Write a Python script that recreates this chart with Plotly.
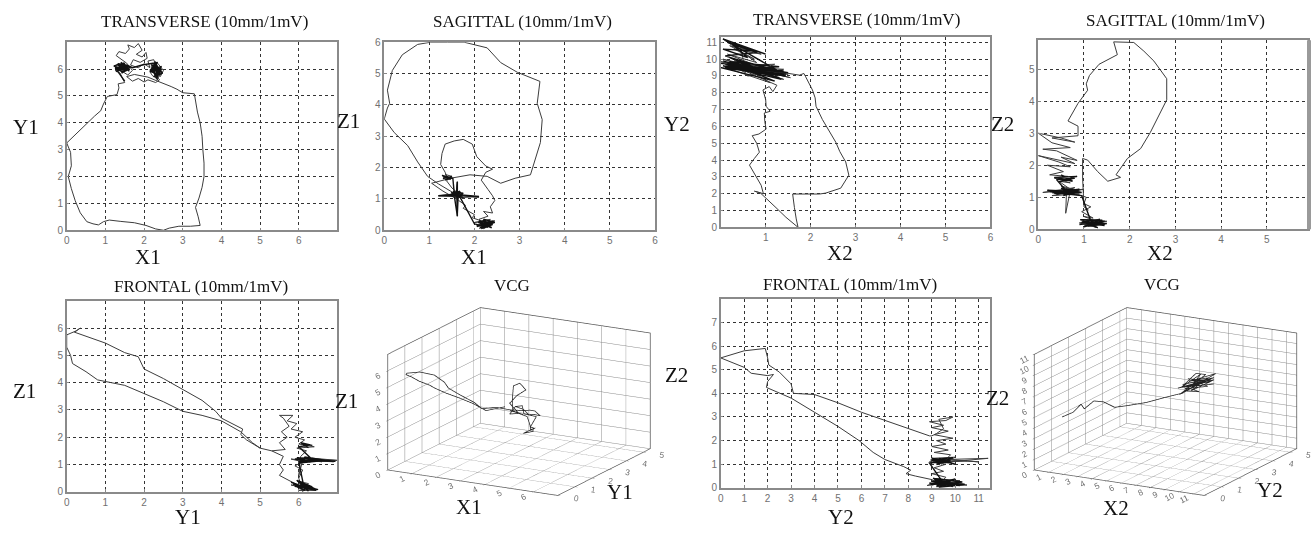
import plotly.graph_objects as go

W, H = 1314, 535

# ---------------- DATA ----------------
# Panel 1: TRANSVERSE (X1, Y1) - loop
trans1_x = [2.50, 2.30, 2.05, 1.75, 1.40, 1.10, 0.95, 0.82, 0.68, 0.52, 0.35, 0.22, 0.12, 0.04, 0.12, 0.10, 0.00,
            0.18, 0.38, 0.55, 0.72, 0.88, 0.95, 1.05, 1.30, 1.35, 1.33, 1.50,
            1.45, 1.38, 1.25, 1.40, 1.22, 1.35, 1.55, 1.30, 1.48, 1.62, 1.45, 1.58, 1.70, 1.55, 1.42, 1.28, 1.35, 1.52,
            1.62, 1.58, 1.75, 1.85, 1.95, 1.80, 1.95, 2.05, 2.08, 1.90, 1.72, 1.65, 1.85, 2.00, 2.15, 2.10, 2.25, 2.30,
            2.20, 2.38, 2.30, 2.45, 2.35, 2.22, 2.15, 2.28, 2.42, 2.50, 2.35, 2.18, 2.25, 2.40, 2.30, 2.10, 2.00, 1.85,
            1.70, 1.55, 1.75, 1.95, 2.10, 2.35, 2.55, 2.70, 2.85, 3.00, 3.30, 3.33, 3.38, 3.45, 3.50, 3.52, 3.55, 3.55,
            3.50, 3.42, 3.33, 3.40, 3.45, 3.20, 2.90, 2.65, 2.50]
trans1_y = [0.00, 0.05, 0.18, 0.28, 0.33, 0.38, 0.32, 0.20, 0.24, 0.32, 0.65, 1.10, 1.55, 2.00, 2.40, 2.90, 3.25,
            3.50, 3.80, 4.00, 4.25, 4.45, 4.70, 4.98, 5.05, 5.30, 5.45, 5.50,
            5.62, 5.85, 5.95, 6.05, 6.10, 6.20, 6.00, 5.92, 6.15, 6.08, 5.90, 5.78, 5.95, 6.22, 6.35, 6.50, 6.65, 6.58,
            6.75, 6.90, 6.80, 6.95, 6.70, 6.55, 6.45, 6.62, 6.40, 6.25, 6.35, 6.15, 6.05, 6.20, 6.05, 6.30, 6.35, 6.15,
            5.95, 6.02, 5.80, 5.85, 5.65, 5.75, 5.90, 5.95, 5.72, 5.95, 6.22, 6.12, 5.85, 5.60, 5.50, 5.60, 5.52, 5.65,
            5.55, 5.72, 5.80, 5.75, 5.70, 5.55, 5.45, 5.35, 5.25, 5.12, 5.08, 4.80, 4.40, 4.00, 3.50, 3.00, 2.50, 2.00,
            1.60, 1.20, 0.85, 0.50, 0.18, 0.15, 0.15, 0.08, 0.00]
# Panel 1 - dense noise clusters
trans1_noise_x = [1.50, 1.30, 1.55, 1.25, 1.45, 1.62, 1.30, 1.52, 1.22, 1.48, 1.60, 1.35, 1.28, 1.55, 1.42, 1.65,
                  1.33, 1.50, 1.25, 1.58, 1.40, 1.62, 1.45, 1.30, 1.55,
                  1.70, 1.95, 2.20, 2.35, 2.15, 2.45, 2.25, 2.40, 2.18, 2.48, 2.30, 2.20, 2.42, 2.28, 2.38, 2.15,
                  2.45, 2.32, 2.22, 2.40, 2.30, 2.46, 2.25, 2.36, 2.20, 2.35]
trans1_noise_y = [5.55, 5.95, 6.10, 6.05, 5.88, 6.00, 6.18, 5.92, 6.12, 6.22, 5.98, 6.02, 5.90, 6.15, 5.85, 6.08,
                  6.20, 5.96, 6.00, 6.05, 6.25, 5.92, 6.10, 5.95, 6.15,
                  6.05, 6.15, 6.20, 6.25, 5.95, 6.10, 5.70, 6.00, 6.18, 5.85, 5.75, 6.05, 5.90, 6.28, 5.80, 5.92,
                  6.00, 5.65, 6.12, 5.78, 5.95, 5.88, 6.22, 5.70, 6.02, 5.60]

# Panel 2: SAGITTAL (X1, Z1)
sag1_x = [2.10, 2.25, 2.05, 2.30, 2.15, 2.40, 2.20, 2.35, 2.00, 2.45, 2.25, 2.10, 2.30, 2.20, 2.40, 2.35, 2.45, 2.40,
          2.30, 2.15, 2.25, 2.40, 2.25, 2.05, 1.95, 1.75, 1.55, 1.35, 1.28, 1.25, 1.35, 1.40, 1.30, 1.48, 1.35, 1.50,
          1.38, 1.50, 1.62, 1.45, 1.70, 1.55, 1.75, 1.60, 1.20, 1.65, 1.62, 1.60, 1.62, 1.60, 2.10, 1.70, 1.55,
          1.20, 0.96, 0.74, 0.52, 0.22, 0.00, 0.07, 0.12, 0.07, 0.18, 0.40, 0.74, 1.03, 1.40, 1.77, 2.28, 2.58, 2.95,
          3.45, 3.39, 3.50, 3.46, 3.35, 3.24, 2.90, 2.58, 2.28, 1.90, 1.47, 1.20, 1.05, 1.30, 1.60, 1.80, 1.75, 2.00,
          1.95, 2.15, 2.20]
sag1_z = [0.05, 0.25, 0.15, 0.10, 0.30, 0.20, 0.05, 0.35, 0.25, 0.30, 0.15, 0.35, 0.45, 0.60, 0.55, 0.75, 0.95, 1.10,
          1.30, 1.60, 1.85, 1.95, 2.05, 2.35, 2.75, 2.90, 2.85, 2.75, 2.45, 2.10, 1.85, 1.65, 1.70, 1.62, 1.78, 1.72,
          1.58, 1.35, 1.20, 1.10, 1.15, 1.25, 1.05, 1.10, 1.10, 1.18, 0.45, 1.25, 1.55, 1.12, 1.05, 1.12, 1.18,
          1.48, 1.72, 2.18, 2.70, 3.12, 3.55, 3.90, 4.05, 4.47, 5.10, 5.60, 5.93, 6.00, 6.00, 6.00, 5.82, 5.35, 5.04,
          4.75, 4.05, 3.53, 2.80, 2.29, 1.77, 1.66, 1.50, 1.72, 1.77, 1.66, 1.55, 1.50, 1.25, 1.00, 0.80, 0.70, 0.50,
          0.40, 0.30, 0.15]
sag1_noise_x = [1.30, 1.50, 1.35, 1.48, 1.28, 1.45, 1.38, 1.52,
                1.55, 1.70, 1.50, 1.68, 1.58, 1.75, 1.52, 1.65, 1.20, 1.62, 1.70, 1.55, 1.62, 1.62, 1.60, 1.72,
                1.48, 1.66, 2.10, 1.58, 1.68, 1.50, 1.64,
                2.00, 2.30, 2.10, 2.40, 2.15, 2.35, 2.05, 2.28, 2.20, 2.45, 2.12, 2.32, 2.18, 2.38, 2.08, 2.25, 2.42, 2.20]
sag1_noise_z = [1.65, 1.72, 1.60, 1.68, 1.75, 1.62, 1.70, 1.66,
                1.20, 1.10, 1.15, 1.25, 1.05, 1.18, 1.22, 1.08, 1.10, 1.15, 1.20, 1.12, 0.45, 1.55, 1.18, 1.10,
                1.20, 1.05, 1.08, 1.14, 1.22, 1.10, 1.16,
                0.20, 0.10, 0.30, 0.18, 0.05, 0.28, 0.12, 0.22, 0.35, 0.25, 0.08, 0.15, 0.32, 0.08, 0.25, 0.18, 0.30, 0.10]

# Panel 3: TRANSVERSE (X2, Y2)
trans2_x = [1.72, 1.45, 1.23, 1.00, 0.88, 0.75, 0.95, 0.90, 0.75, 0.64, 0.75, 0.86, 0.80, 0.70, 0.85, 1.01, 0.98,
            0.97, 1.10, 1.01, 1.00, 0.94, 1.08, 1.16, 1.25,
            0.20, 1.40, 0.05, 1.50, 0.10, 1.10, 0.30, 1.30, 0.00, 1.55, 0.50, 1.00, 0.15, 0.80, 0.05, 0.60, 0.20,
            0.75, 0.30, 0.90, 0.45, 0.55, 0.25, 1.20, 0.60, 1.40, 0.70, 1.75, 1.85, 1.89, 1.95, 2.04, 2.10, 2.12,
            2.26, 2.40, 2.56, 2.65, 2.78, 2.85, 2.67, 2.34, 2.20, 1.60, 1.62, 1.64, 1.68, 1.72]
trans2_y = [0.00, 0.60, 1.17, 1.75, 2.05, 2.15, 2.00, 2.50, 3.20, 3.70, 4.10, 4.47, 5.00, 5.45, 5.55, 5.84, 6.30,
            6.80, 6.90, 7.20, 7.60, 8.17, 8.37, 8.07, 8.45,
            9.70, 8.80, 10.00, 9.10, 9.50, 8.60, 9.90, 9.20, 9.85, 8.90, 9.60, 9.40, 10.30, 9.80, 11.20, 10.50, 10.80,
            10.00, 10.60, 10.30, 10.70, 9.20, 9.60, 9.70, 9.00, 9.40, 9.50, 9.05, 9.15, 8.95, 8.60, 8.17, 7.70, 7.20,
            6.42, 5.80, 5.06, 4.50, 3.89, 3.10, 2.33, 2.04, 1.98, 1.98, 1.50, 1.17, 0.50, 0.00]
trans2_noise_x = [0.05, 1.30, 0.10, 1.45, 0.00, 1.20, 0.15, 1.50, 0.05, 1.35, 0.20, 1.10, 0.00, 1.40, 0.10, 0.90,
                  0.30, 1.25, 0.05, 1.00, 0.15, 0.70, 0.05, 0.60, 0.25, 0.80, 0.10, 0.50, 0.30, 1.10, 0.40, 0.95,
                  0.20, 1.30, 0.35, 1.45]
trans2_noise_y = [9.90, 8.90, 9.70, 9.00, 9.50, 8.70, 9.80, 9.20, 9.60, 8.80, 10.10, 9.40, 9.75, 9.30, 9.55, 9.10,
                  10.00, 9.35, 11.20, 10.30, 11.00, 10.50, 10.60, 10.10, 10.90, 10.40, 10.20, 9.85, 9.65, 9.05, 9.95,
                  9.25, 9.85, 9.55, 9.45, 9.10]

# Panel 4: SAGITTAL (X2, Z2)
sag2_x = [1.00, 1.40, 0.95, 1.50, 1.05, 1.30, 0.90, 1.35, 1.10, 1.45, 1.00, 1.20, 0.95, 1.15, 1.00, 1.05, 0.95,
          0.60, 0.20, 0.90, 0.30, 1.00, 0.10, 0.80, 0.40, 0.70, 0.60, 0.62, 0.90, 0.50, 0.80, 0.45, 0.70, 0.35,
          0.65, 0.25, 0.55, 0.20, 0.70, 0.45, 0.00, 0.80, 0.50, 0.85, 0.40, 0.10, 0.70, 0.30, 0.00, 0.50, 0.80,
          0.30, 0.87, 0.87, 0.65, 0.87, 1.08, 1.05, 1.12, 1.33, 1.73, 1.65, 2.09, 2.31, 2.53, 2.81, 2.81, 2.63,
          2.45, 2.24, 1.95, 1.70, 1.80, 1.52, 1.30, 1.08, 0.97, 0.97, 0.98, 1.00, 1.10]
sag2_z = [0.10, 0.22, 0.30, 0.25, 0.15, 0.05, 0.20, 0.32, 0.10, 0.15, 0.40, 0.35, 0.55, 0.70, 0.80, 1.00, 1.05,
          1.15, 1.20, 1.10, 1.05, 1.25, 1.15, 1.30, 1.10, 1.20, 0.50, 1.25, 1.20, 1.35, 1.15, 1.50, 1.45, 1.60,
          1.65, 1.70, 1.80, 2.00, 1.95, 2.10, 2.30, 2.05, 2.25, 2.15, 2.45, 2.50, 2.55, 2.70, 3.00, 2.85, 2.72,
          2.85, 2.92, 3.22, 3.38, 3.93, 4.34, 4.54, 4.80, 5.15, 5.45, 5.85, 5.83, 5.56, 5.25, 4.70, 4.04, 3.53,
          3.02, 2.52, 2.21, 1.70, 1.62, 1.50, 1.80, 2.16, 2.21, 1.60, 1.00, 0.70, 0.60]
sag2_noise_x = [0.90, 1.45, 1.00, 1.35, 0.95, 1.50, 1.10, 1.40, 0.92, 1.30, 1.05, 1.45, 1.15,
                0.95, 0.30, 0.90, 0.40, 0.85, 0.20, 0.80, 0.50, 0.95, 0.35, 0.75, 0.55, 0.88, 0.25, 0.70, 0.60,
                0.40, 0.80, 0.45, 0.85, 0.35, 0.75, 0.50]
sag2_noise_z = [0.15, 0.25, 0.08, 0.30, 0.22, 0.18, 0.10, 0.28, 0.30, 0.05, 0.20, 0.12, 0.25,
                1.05, 1.15, 1.25, 1.10, 1.18, 1.22, 1.08, 1.28, 1.15, 1.12, 1.25, 1.05, 1.20, 1.18, 1.10, 1.22,
                1.55, 1.60, 1.48, 1.65, 1.62, 1.50, 1.70]

# Panel 5: FRONTAL (Y1, Z1)
front1_y = [5.00, 4.65, 4.50, 4.55, 4.00, 3.85, 3.50, 3.00, 2.50, 2.00, 1.85, 1.50, 1.00, 0.20, 0.35, 0.25, 0.00,
            0.00, 0.10, 0.15, 0.50, 0.80, 1.50, 2.00, 2.50, 3.00, 3.50, 4.00, 4.50, 4.80, 5.00, 5.30, 5.60, 5.50,
            5.60, 5.50, 5.70, 5.90, 6.10, 5.80, 6.30, 6.00, 6.45, 6.20, 5.95, 6.25, 6.10, 6.00, 6.10, 5.90, 6.10,
            5.80, 6.60, 6.20, 7.00, 6.40, 6.90, 6.10, 6.00, 6.05, 6.20, 5.95, 6.40, 6.00, 6.15, 5.90, 6.10, 5.80,
            5.95, 5.70, 5.85, 5.50, 5.60, 5.75, 5.55, 5.70, 5.50, 5.65, 5.30]
front1_z = [1.60, 1.90, 2.10, 2.30, 2.70, 2.95, 3.35, 3.75, 4.15, 4.50, 4.95, 5.10, 5.45, 5.85, 6.00, 5.90, 5.75,
            5.30, 5.00, 4.70, 4.40, 4.10, 3.90, 3.60, 3.30, 2.95, 2.80, 2.60, 2.20, 1.80, 1.60, 1.50, 1.30, 1.00,
            0.80, 0.60, 0.45, 0.30, 0.15, 0.25, 0.10, 0.05, 0.05, 0.20, 0.40, 0.30, 0.00, 0.50, 0.80, 0.95, 1.10,
            1.20, 1.10, 1.25, 1.15, 1.20, 1.10, 1.15, 0.60, 1.30, 1.50, 1.60, 1.65, 1.75, 1.90, 2.00, 2.20, 2.30,
            2.50, 2.60, 2.80, 2.80, 2.70, 2.40, 2.20, 2.00, 1.80, 1.55, 1.50]
front1_noise_y = [5.80, 6.30, 5.90, 6.45, 6.00, 6.20, 5.85, 6.50, 6.05, 6.35, 5.95, 6.25, 6.10, 6.40, 5.90, 6.15,
                  6.00, 6.35, 5.95, 6.30, 6.05, 6.95, 6.10, 6.40, 6.00, 6.70, 6.15, 6.25, 5.90, 6.30,
                  6.00, 6.30, 6.05, 6.25, 6.10, 6.35]
front1_noise_z = [0.35, 0.10, 0.20, 0.05, 0.40, 0.15, 0.28, 0.08, 0.25, 0.18, 0.42, 0.02, 0.30, 0.12, 0.22, 0.05,
                  1.10, 1.20, 1.25, 1.08, 1.15, 1.12, 1.22, 1.18, 1.05, 1.15, 1.28, 1.10, 1.20, 1.25,
                  1.65, 1.72, 1.80, 1.62, 1.75, 1.70]

# Panel 7: FRONTAL (Y2, Z2)
front2_y = [8.90, 8.00, 7.00, 6.00, 5.00, 4.00, 3.10, 3.00, 2.50, 2.05, 2.00, 1.90, 1.00, 0.00, 1.00, 1.30,
            2.00, 2.25, 2.00, 1.95, 3.00, 4.00, 5.00, 5.90, 6.50, 7.00, 7.80, 8.10, 7.90, 8.30, 9.00,
            9.50, 8.90, 10.00, 9.20, 10.50, 9.40, 8.80, 9.80, 9.10, 10.20, 9.30, 9.60, 9.00, 9.50, 9.10, 9.60,
            8.90, 10.50, 9.20, 11.40, 9.60, 11.00, 9.00, 10.00, 9.40, 9.80, 9.10, 9.70, 9.00, 9.60, 9.20, 9.90,
            9.10, 9.70, 9.00, 9.50, 8.90, 9.60, 9.90, 9.30, 9.50, 9.20, 9.00, 8.90]
front2_z = [2.20, 2.50, 2.85, 3.20, 3.60, 3.95, 4.00, 4.40, 4.90, 5.20, 5.50, 5.90, 5.80, 5.50, 5.10, 4.85,
            4.75, 4.80, 4.50, 4.25, 3.80, 3.20, 2.60, 2.00, 1.50, 1.20, 0.90, 0.75, 0.60, 0.50, 0.35,
            0.10, 0.20, 0.15, 0.05, 0.12, 0.30, 0.10, 0.25, 0.40, 0.30, 0.15, 0.45, 0.60, 0.70, 0.85, 1.00,
            1.10, 1.15, 1.05, 1.25, 1.20, 1.10, 1.25, 1.30, 1.00, 1.40, 1.50, 1.60, 1.75, 1.85, 2.00, 2.10,
            2.25, 2.40, 2.55, 2.65, 2.80, 2.85, 3.00, 2.90, 2.50, 2.30, 2.20, 2.20]
front2_noise_y = [8.90, 10.20, 9.10, 9.90, 9.00, 10.40, 9.30, 9.80, 8.95, 10.00, 9.20, 9.70, 9.05, 10.30, 9.40, 9.60,
                  8.90, 9.80, 9.00, 10.00, 9.10, 9.70, 8.95, 9.90, 9.20, 9.60, 9.05, 9.85, 9.30]
front2_noise_z = [0.20, 0.10, 0.35, 0.05, 0.28, 0.15, 0.02, 0.30, 0.12, 0.38, 0.08, 0.22, 0.40, 0.25, 0.15, 0.05,
                  1.05, 1.15, 1.25, 1.00, 1.20, 1.08, 1.18, 1.28, 0.98, 1.22, 1.12, 1.05, 1.25]

# Panel 6: VCG (X1, Y1, Z1)
vcg1_x = [1.47, 1.05, 0.80, 0.55, 0.25, 0.00, 0.10, 0.10, 0.20, 0.30, 0.60, 1.10, 1.75, 2.30, 2.50, 2.90, 3.45,
          3.40, 3.50, 3.55, 3.50, 3.45, 3.30, 3.25, 2.90, 2.58, 2.28, 1.90,
          1.60, 1.75, 1.50, 1.85, 1.55, 1.65, 1.40, 1.70, 1.95, 1.60, 1.45, 1.35, 1.80, 2.00, 2.20, 2.35, 2.15,
          2.30, 2.10, 2.40, 2.20, 2.35, 2.45, 2.40, 2.25, 2.00, 1.90]
vcg1_y = [4.76, 4.25, 3.83, 3.40, 3.06, 2.76, 2.30, 1.70, 1.10, 0.64, 0.26, 0.32, 0.24, 0.04, 0.00, 0.13, 0.17,
          0.68, 1.36, 2.13, 2.98, 3.40, 3.91, 4.29, 4.46, 4.59, 4.68, 4.76,
          4.85, 5.18, 5.02, 5.27, 5.10, 4.93, 5.35, 5.30, 5.30, 5.27, 5.06, 5.18, 5.10, 5.30, 5.18, 5.02, 5.27,
          5.35, 4.93, 5.10, 5.35, 5.18, 4.85, 5.27, 4.76, 5.02, 4.76]
vcg1_z = [1.66, 1.60, 2.20, 2.70, 3.10, 3.50, 3.95, 4.50, 5.10, 5.50, 5.85, 6.00, 6.00, 5.80, 5.50, 5.10, 4.75,
          4.10, 3.85, 3.30, 2.80, 2.60, 2.25, 1.75, 1.66, 1.50, 1.72, 1.77,
          1.20, 1.10, 1.30, 1.00, 1.25, 2.00, 2.60, 2.85, 2.50, 2.10, 1.70, 1.65, 1.15, 0.90, 0.50, 0.30, 0.15,
          0.25, 0.10, 0.20, 0.05, 0.35, 0.60, 1.00, 1.40, 1.70, 1.77]

# Panel 8: VCG (X2, Y2, Z2)
vcg2_x = [0.97, 1.73, 2.28, 2.50, 3.16, 3.83, 4.59, 5.46, 6.79, 8.10, 9.20,
          9.2, 9.6, 9.3, 9.8, 9.4, 9.7, 9.5, 9.9, 9.3, 9.7, 9.5, 9.9, 9.4, 9.8, 9.6, 9.3, 10.0, 9.5, 9.7,
          9.5, 9.9, 9.4, 9.8, 9.6, 9.9, 9.4, 9.7, 9.5]
vcg2_y = [0.8, 0.8, 0.8, 0.8, 0.8, 0.8, 0.8, 0.8, 0.8, 0.8, 0.8,
          0.8, 1.8, 0.5, 2.0, 1.0, 1.6, 0.6, 2.1, 0.9, 1.9, 1.2, 2.2, 0.5, 1.7, 1.3, 0.7, 2.0, 1.1, 1.5,
          0.6, 2.1, 1.2, 1.8, 0.9, 1.9, 0.8, 1.4, 1.0]
vcg2_z = [4.58, 5.19, 6.07, 5.67, 6.56, 6.61, 6.25, 6.59, 7.17, 7.93, 8.53,
          8.5, 9.0, 9.3, 8.8, 9.8, 9.2, 9.6, 9.1, 8.9, 8.4, 9.5, 9.4, 8.7, 9.7, 10.1, 9.2, 8.6, 9.0, 9.9,
          9.4, 8.9, 8.5, 9.3, 9.7, 9.1, 8.8, 8.3, 8.9]

titles = ["TRANSVERSE (10mm/1mV)", "SAGITTAL (10mm/1mV)", "TRANSVERSE (10mm/1mV)", "SAGITTAL (10mm/1mV)",
          "FRONTAL (10mm/1mV)", "VCG", "FRONTAL (10mm/1mV)", "VCG"]

# ---------------- FIGURE ----------------
LOOP = dict(color="#3c3c3c", width=1)
NOISE = dict(color="#111111", width=1.4)
fig = go.Figure()

def px2x(a):
    return a / W

def px2y(b):
    return 1 - b / H

panels2d = [
    (trans1_x, trans1_y, trans1_noise_x, trans1_noise_y, (64, 336), (38, 230), [0, 7], [0, 7],
     list(range(0, 7)), list(range(0, 7)), None),
    (sag1_x, sag1_z, sag1_noise_x, sag1_noise_z, (383, 655), (38, 230), [0, 6], [0, 6],
     list(range(0, 7)), list(range(0, 7)), None),
    (trans2_x, trans2_y, trans2_noise_x, trans2_noise_y, (721, 992), (33, 227), [0, 6], [0, 11.3],
     list(range(0, 7)), list(range(0, 12)), [""] + [str(i) for i in range(1, 7)]),
    (sag2_x, sag2_z, sag2_noise_x, sag2_noise_z, (1040, 1311), (36, 229), [0, 5.9], [0, 5.9],
     list(range(0, 6)), list(range(0, 6)), None),
    (front1_y, front1_z, front1_noise_y, front1_noise_z, (64, 336), (302, 497), [0, 7], [0, 7],
     list(range(0, 7)), list(range(0, 7)), None),
    (front2_y, front2_z, front2_noise_y, front2_noise_z, (721, 992), (300, 493), [0, 11.5], [0, 8],
     list(range(0, 12)), list(range(0, 8)), None),
]

layout_axes = {}
for i, (xd, yd, nxd, nyd, xdom, ydom, xr, yr, xt, yt, xtt) in enumerate(panels2d):
    n = i + 1
    xname = "x" if n == 1 else f"x{n}"
    yname = "y" if n == 1 else f"y{n}"
    fig.add_trace(go.Scatter(x=xd, y=yd, mode="lines", line=LOOP, xaxis=xname, yaxis=yname,
                             showlegend=False, hoverinfo="skip"))
    fig.add_trace(go.Scatter(x=nxd, y=nyd, mode="lines", line=NOISE, xaxis=xname, yaxis=yname,
                             showlegend=False, hoverinfo="skip"))
    common = dict(showline=True, mirror=True, linecolor="#8a8a8a", linewidth=1.5,
                  showgrid=True, gridcolor="#333333", gridwidth=1, griddash="dot",
                  zeroline=False, ticks="inside", ticklen=3, tickcolor="#888",
                  tickfont=dict(family="Liberation Sans", size=10, color="#707070"),
                  fixedrange=True)
    xa = dict(common, domain=[px2x(xdom[0]), px2x(xdom[1])], range=xr, tickvals=xt,
              anchor=yname)
    if xtt is not None:
        xa["ticktext"] = xtt
    ya = dict(common, domain=[px2y(ydom[1]), px2y(ydom[0])], range=yr, tickvals=yt,
              anchor=xname)
    layout_axes["xaxis" if n == 1 else f"xaxis{n}"] = xa
    layout_axes["yaxis" if n == 1 else f"yaxis{n}"] = ya

fig.add_trace(go.Scatter3d(x=vcg1_x, y=vcg1_y, z=vcg1_z, mode="lines", line=dict(color="#222222", width=1.5),
                           scene="scene", showlegend=False, hoverinfo="skip"))
fig.add_trace(go.Scatter3d(x=vcg2_x, y=vcg2_y, z=vcg2_z, mode="lines", line=dict(color="#222222", width=1.5),
                           scene="scene2", showlegend=False, hoverinfo="skip"))

def ax3(rng, ticks):
    return dict(range=rng, tickvals=ticks, showgrid=True, gridcolor="#8a8a8a", gridwidth=1,
                showline=True, linecolor="#555", linewidth=1.5, mirror=True,
                zeroline=False, showbackground=False, showspikes=False, title=dict(text=""),
                ticks="outside", ticklen=3, tickcolor="#666",
                tickfont=dict(family="Liberation Sans", size=10, color="#707070"))

cam = dict(eye=dict(x=0.92, y=-1.69, z=0.55), up=dict(x=0, y=0, z=1), center=dict(x=0, y=0, z=0),
           projection=dict(type="orthographic"))
ASPECT = dict(x=1.72, y=1.72, z=1.07)

scene1 = dict(domain=dict(x=[px2x(365), px2x(672)], y=[px2y(520), px2y(290)]),
              xaxis=ax3([0, 7], list(range(0, 7))), yaxis=ax3([0, 5.4], list(range(0, 6))),
              zaxis=ax3([0, 7], list(range(0, 7))),
              aspectmode="manual", aspectratio=ASPECT, camera=cam, bgcolor="white")
scene2 = dict(domain=dict(x=[px2x(1022), px2x(1314)], y=[px2y(520), px2y(290)]),
              xaxis=ax3([0, 11.7], list(range(0, 12))), yaxis=ax3([0, 5.4], list(range(0, 6))),
              zaxis=ax3([0, 11], list(range(0, 12))),
              aspectmode="manual", aspectratio=ASPECT, camera=cam, bgcolor="white")

annotations = []
title_pos = [(202, 17), (522, 17), (857, 15), (1178, 16), (199, 287), (511, 286), (851, 285), (1164, 285)]
for t, (cx, cy) in zip(titles, title_pos):
    annotations.append(dict(text=t, x=px2x(cx), y=px2y(cy), xref="paper", yref="paper", showarrow=False,
                            xanchor="center", yanchor="middle",
                            font=dict(family="Liberation Serif", size=17, color="#111")))

axis_labels = [("Y1", 23, 125), ("X1", 146, 257), ("Z1", 347, 118), ("X1", 473, 257),
               ("Y2", 677, 122), ("X2", 841, 253), ("Z2", 1004, 121), ("X2", 1162, 253),
               ("Z1", 22, 394), ("Y1", 186, 523), ("Z1", 345, 404), ("X1", 468, 513), ("Y1", 620, 497),
               ("Z2", 677, 378), ("Y2", 842, 523), ("Z2", 999, 401), ("X2", 1118, 514), ("Y2", 1273, 495)]
for t, cx, cy in axis_labels:
    annotations.append(dict(text=t, x=px2x(cx), y=px2y(cy), xref="paper", yref="paper", showarrow=False,
                            xanchor="center", yanchor="middle",
                            font=dict(family="Liberation Serif", size=21, color="#111")))

# thick grey right edge of the top-right panel frame
shapes = [dict(type="rect", xref="paper", yref="paper", x0=px2x(1310), x1=px2x(1314),
               y0=px2y(229), y1=px2y(36), fillcolor="#9a9a9a", line=dict(width=0))]

fig.update_layout(width=W, height=H, margin=dict(l=0, r=0, t=0, b=0), paper_bgcolor="white",
                  plot_bgcolor="white", showlegend=False, annotations=annotations, shapes=shapes,
                  scene=scene1, scene2=scene2, **layout_axes)

fig.write_html("out.html", config={"displayModeBar": False},
               post_script="document.body.style.margin='0';document.body.style.overflow='hidden';")
